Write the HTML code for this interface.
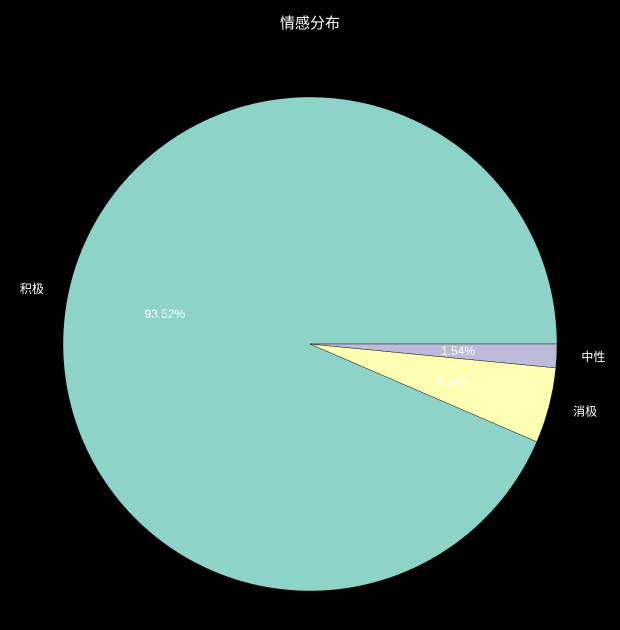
<!DOCTYPE html>
<html><head><meta charset="utf-8"><style>
html,body{margin:0;padding:0;background:#000;}
svg{display:block;}
text{font-family:"WenQuanYi Zen Hei","Liberation Sans","Noto Sans CJK SC",sans-serif;}
</style></head><body>
<svg id="chart" width="620" height="630" viewBox="0 0 620 630">
<rect width="620" height="630" fill="#000"/>
<text x="310" y="28" fill="#fff" font-size="15" text-anchor="middle">情感分布</text>
<g id="slices"></g>
</svg>
<script>
const categories = ["积极", "消极", "中性"];
const values = [93.52, 4.94, 1.54];
const colors = ["#8dd3c7", "#ffffb3", "#bebada"];
const pctLabels = ["93.52%", "4.94%", "1.54%"];

const cx = 310, cy = 344, R = 247;
const g = document.getElementById('slices');
const NS = "http://www.w3.org/2000/svg";
const total = values.reduce((a, b) => a + b, 0);
function pt(r, deg) { const a = deg * Math.PI / 180; return [cx + r * Math.cos(a), cy - r * Math.sin(a)]; }
let start = 0;
values.forEach((v, i) => {
  const sweep = v / total * 360;
  const end = start + sweep;
  const [x1, y1] = pt(R, start), [x2, y2] = pt(R, end);
  const large = sweep > 180 ? 1 : 0;
  const p = document.createElementNS(NS, 'path');
  p.setAttribute('d', `M${cx},${cy} L${x1},${y1} A${R},${R} 0 ${large} 0 ${x2},${y2} Z`);
  p.setAttribute('fill', colors[i]);
  p.setAttribute('stroke', '#000');
  p.setAttribute('stroke-width', '0.4');
  
  
  g.appendChild(p);
  const mid = start + sweep / 2;
  const [lx, ly] = pt(R * 1.1, mid);
  const t = document.createElementNS(NS, 'text');
  t.setAttribute('x', lx); t.setAttribute('y', ly + 4);
  t.setAttribute('fill', '#fff'); t.setAttribute('font-size', '12');
  t.setAttribute('text-anchor', lx < cx ? 'end' : 'start');
  t.textContent = categories[i];
  
  
  g.appendChild(t);
  const [px, py] = pt(R * 0.6, mid);
  const t2 = document.createElementNS(NS, 'text');
  t2.setAttribute('x', px); t2.setAttribute('y', py + 4);
  t2.setAttribute('fill', '#fff'); t2.setAttribute('font-size', '12');
  t2.setAttribute('text-anchor', 'middle');
  t2.textContent = pctLabels[i];
  
  
  g.appendChild(t2);
  start = end;
});
</script>
</body></html>
